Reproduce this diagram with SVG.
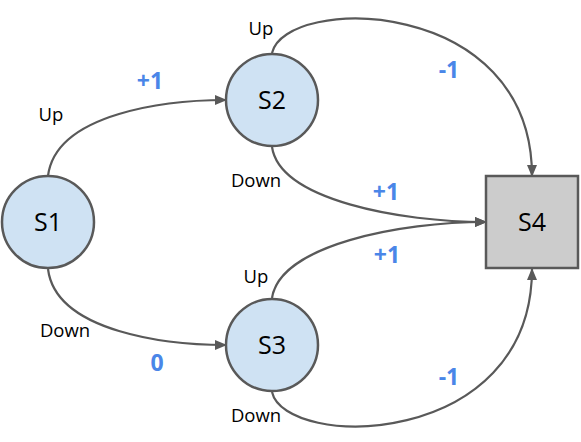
<svg xmlns="http://www.w3.org/2000/svg" width="581" height="442" viewBox="0 0 581 442">
<style>
.node{fill:#cfe2f3;stroke:#595959;stroke-width:2.5}
.term{fill:#cccccc;stroke:#595959;stroke-width:2.5}
.edge{fill:none;stroke:#595959;stroke-width:2.2;marker-end:url(#arr)}
.nl{font-family:"Open Sans","Liberation Sans",sans-serif;font-size:25px;fill:#000;text-anchor:middle}
.al{font-family:"Open Sans","Liberation Sans",sans-serif;font-size:18.5px;fill:#000;text-anchor:middle}
.rw{font-family:"Open Sans","Liberation Sans",sans-serif;font-size:23px;font-weight:bold;fill:#4a86e8;text-anchor:middle}
</style>
<defs>
<marker id="arr" viewBox="0 0 12 10" refX="11" refY="5" markerWidth="12" markerHeight="10" markerUnits="userSpaceOnUse" orient="auto">
<path d="M0,0 L12,5 L0,10 Z" fill="#595959"/>
</marker>
</defs>
<g id="connectors">
<path class="edge" d="M48,176 C56,112 170,100 226,100"/>
<path class="edge" d="M48,269 C56,333 170,345 226,345"/>
<path class="edge" d="M272,53 C285,-5 532,-5 532,176"/>
<path class="edge" d="M272,147 C280,200 400,222 486,222"/>
<path class="edge" d="M272,298 C280,245 400,222 486,222"/>
<path class="edge" d="M272,392 C285,450 532,450 532,269"/>
</g>
<g id="labels">
<text class="al" x="51" y="121">Up</text>
<text class="rw" x="150" y="89">+1</text>
<text class="al" x="65" y="337">Down</text>
<text class="rw" x="157" y="371">0</text>
<text class="al" x="261" y="35">Up</text>
<text class="rw" x="449" y="78">-1</text>
<text class="al" x="256" y="187">Down</text>
<text class="rw" x="386" y="200">+1</text>
<text class="rw" x="387" y="263">+1</text>
<text class="al" x="256" y="283">Up</text>
<text class="rw" x="449" y="385">-1</text>
<text class="al" x="256" y="422">Down</text>
</g>
<g id="S1"><circle class="node" cx="48" cy="222" r="46"/><text class="nl" x="48" y="231">S1</text></g>
<g id="S2"><circle class="node" cx="272" cy="100" r="46"/><text class="nl" x="272" y="109">S2</text></g>
<g id="S3"><circle class="node" cx="272" cy="345" r="46"/><text class="nl" x="272" y="354">S3</text></g>
<g id="S4"><rect class="term" x="486" y="176" width="92" height="92"/><text class="nl" x="532" y="231">S4</text></g>
</svg>
